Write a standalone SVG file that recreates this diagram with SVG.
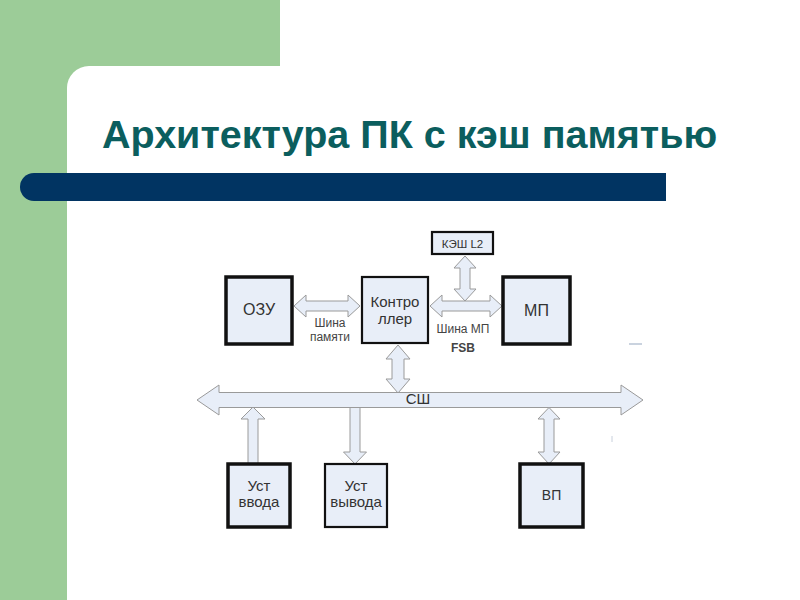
<svg xmlns="http://www.w3.org/2000/svg" width="800" height="600" viewBox="0 0 800 600">
<style>
.box{fill:#e8eef8;stroke:#111;}
.thick{stroke-width:3.5;}
.thin{stroke-width:2.2;}
.arr{fill:#e8eef8;stroke:#9a9a9a;stroke-width:1;stroke-linejoin:miter;}
.t{font-family:"Liberation Sans",Arial,sans-serif;fill:#333;text-anchor:middle;}
.lbl{font-family:"Liberation Sans",Arial,sans-serif;fill:#444;text-anchor:middle;font-size:12px;}
</style>
<rect x="0" y="0" width="800" height="600" fill="#ffffff"/>
<rect x="0" y="0" width="280" height="600" fill="#9ccc98"/>
<rect x="67" y="66" width="800" height="600" rx="22" ry="22" fill="#ffffff"/>
<path d="M666 173 H34 A14 14 0 0 0 34 201 H666 Z" fill="#013462"/>
<text x="102" y="148" font-family="'Liberation Sans',Arial,sans-serif" font-weight="bold" font-size="39.5" fill="#0b5e5e">Архитектура ПК с кэш памятью</text>

<g id="connectors">
  <polygon class="arr" points="294,306 306,295 306,301 348,301 348,295 360,306 348,317 348,311 306,311 306,317"/>
  <polygon class="arr" points="430,306 442,295 442,301 490,301 490,295 502,306 490,317 490,311 442,311 442,317"/>
  <polygon class="arr" points="465,256 476,268 470,268 470,289 476,289 465,301 454,289 460,289 460,268 454,268"/>
  <polygon class="arr" points="398,345 410,359 404,359 404,379 410,379 398,393 386,379 392,379 392,359 386,359"/>
  <polygon class="arr" points="197,400 219,385 219,392.5 621,392.5 621,385 643,400 621,415 621,407.5 219,407.5 219,415"/>
  <polygon class="arr" points="253,407 265,419 258,419 258,464 248,464 248,419 241,419"/>
  <polygon class="arr" points="350,407.5 360,407.5 360,452 366.5,452 355,464 343.5,452 350,452"/>
  <polygon class="arr" points="549,407.5 560,419 554,419 554,452 560,452 549,464 538,452 544,452 544,419 538,419"/>
  <text class="lbl" x="330" y="327">Шина</text>
  <text class="lbl" x="330" y="341">памяти</text>
  <text class="lbl" x="463" y="333">Шина МП</text>
  <text class="lbl" x="463" y="352" font-weight="bold" fill="#333">FSB</text>
  <text class="t" x="418" y="404" font-size="15">СШ</text>
</g>

<g id="ozu"><rect class="box thick" x="226" y="277" width="66" height="67"/><text class="t" x="259" y="315" font-size="16">ОЗУ</text></g>
<g id="controller"><rect class="box thin" x="362" y="277" width="66" height="66"/><text class="t" x="395" y="307" font-size="15">Контро</text><text class="t" x="395" y="324" font-size="15">ллер</text></g>
<g id="cache"><rect class="box thin" x="432" y="232" width="61" height="22"/><text class="t" x="462.5" y="247.5" font-size="11.5">КЭШ L2</text></g>
<g id="mp"><rect class="box thick" x="503" y="277" width="67" height="67"/><text class="t" x="536.5" y="316" font-size="16">МП</text></g>
<g id="input"><rect class="box thick" x="228" y="464" width="62" height="63"/><text class="t" x="259" y="491" font-size="15">Уст</text><text class="t" x="259" y="507" font-size="15">ввода</text></g>
<g id="output"><rect class="box thin" x="325" y="464" width="62" height="63"/><text class="t" x="356" y="491" font-size="15">Уст</text><text class="t" x="356" y="507" font-size="15">вывода</text></g>
<g id="vp"><rect class="box thick" x="520" y="464" width="63" height="63"/><text class="t" x="551.5" y="500" font-size="14">ВП</text></g>

<line x1="629" y1="344" x2="642" y2="344" stroke="#b8c4d4" stroke-width="1.5"/>
<line x1="612" y1="436" x2="612" y2="442" stroke="#c8d0dc" stroke-width="1"/>
</svg>
